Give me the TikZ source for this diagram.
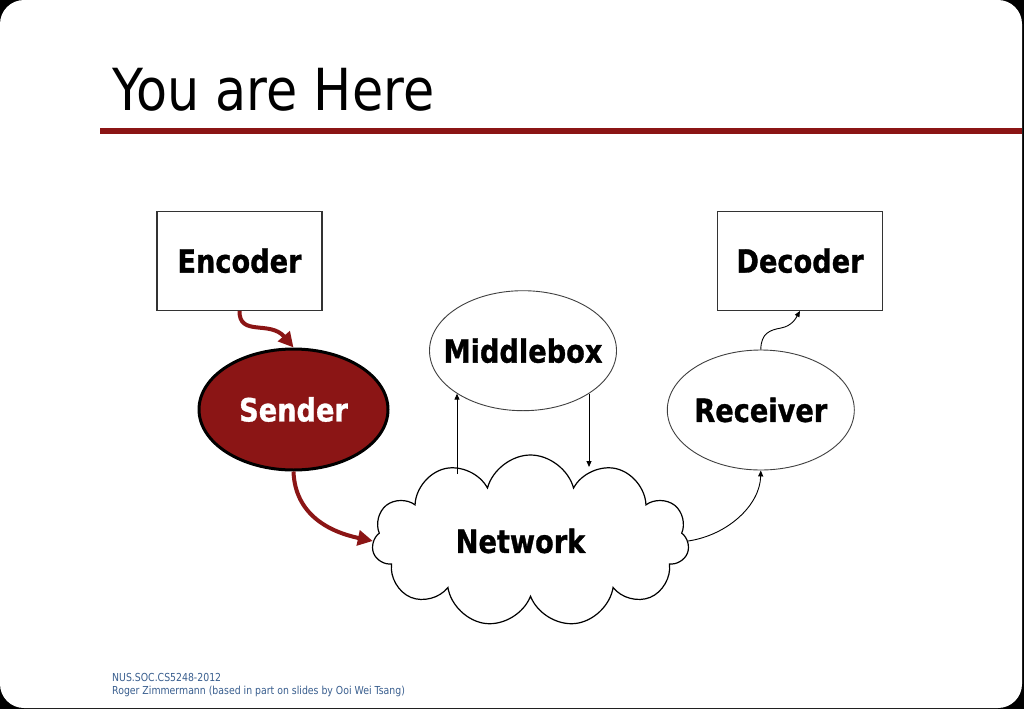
\documentclass[tikz,border=0pt]{standalone}
\usepackage{fontspec}
\setmainfont{DejaVu Sans}[FakeStretch=0.85, BoldFeatures={FakeBold=1}]
\newfontfamily\titlefont{DejaVu Sans}[FakeStretch=0.875]
\usetikzlibrary{positioning,shapes.geometric,shapes.symbols,arrows.meta}
\definecolor{slidered}{HTML}{8B1515}
\definecolor{footblue}{HTML}{3A5F8F}
\tikzset{
  label font/.style={
    font=\bfseries\fontsize{32}{36}\selectfont,
  },
  plain box/.style={
    draw=black!80,
    line width=1.3pt,
    minimum width=165,
    minimum height=99,
    label font,
  },
  round node/.style={
    ellipse,
    draw=black!75,
    line width=0.9pt,
    minimum width=187,
    minimum height=120,
    inner sep=0pt,
    label font,
  },
  red arrow/.style={
    draw=slidered,
    line width=4pt,
    -{Triangle[length=15pt,width=15pt]},
  },
  thin arrow/.style={
    draw=black,
    line width=0.9pt,
    -{Triangle[length=6pt,width=5pt]},
  },
  footer/.style={
    anchor=base west,
    inner sep=0pt,
    text=footblue,
    font=\fontsize{11}{13}\selectfont,
  }
}

\begin{document}
\begin{tikzpicture}[x=1pt,y=-1pt]
        \useasboundingbox (0,0) rectangle (1024,709);
        \fill[black] (0,0) rectangle (1024,709);
        \fill[white, rounded corners=24pt] (0,0) rectangle (1022,708);

        \node [anchor=base west, inner sep=0pt, font=\titlefont\fontsize{58}{60}\selectfont] (title) at (112,110) {You are Here};
        \draw [slidered, line width=6pt] (100,130.5) -- (1022,130.5);

        \node [plain box] (enc) at (239.5,260.7) {Encoder};
        \node [plain box] (dec) at (800,260.7) {Decoder};
        \node [round node, fill=slidered, draw=black, line width=3pt, minimum width=189, minimum height=121, text=white] (snd) at (293.5,409.5) {\makebox[0pt]{Sender}};
        \node [round node] (mid) at (523,350.7) {\makebox[0pt]{Middlebox}};
        \node [round node] (rcv) at (760.8,410) {\makebox[0pt]{Receiver}};
        \node [cloud, draw=black, line width=1.2pt, cloud puffs=11, aspect=1.85, minimum width=317, minimum height=172, inner sep=0pt,
               label={[label font, xshift=-10pt]center:Network}] (net) at (530.5,541) {};

        \coordinate (net-up) at (457,474);
        \coordinate (net-down) at (589,467);

        \draw [red arrow] (enc.south) .. controls (239,337) and (270,320) .. (snd.north);
        \draw [red arrow] (snd.south) .. controls (295,515) and (330,532) .. (net.west);
        \draw [thin arrow] (net-up) -- (net-up |- mid.213);
        \draw [thin arrow] (net-down |- mid.327) -- (net-down);
        \draw [thin arrow] (net.east) .. controls (728,535) and (760,505) .. (rcv.south);
        \draw [thin arrow] (rcv.north) .. controls (761,333) and (770,330) .. (781,328) .. controls (792,326) and (796,318) .. (dec.south);

        \node [footer] (foot1) at (112,681.5) {NUS.SOC.CS5248-2012};
        \node [footer] (foot2) at (112,694.5) {Roger Zimmermann (based in part on slides by Ooi Wei Tsang)};
      \end{tikzpicture}
\end{document}
